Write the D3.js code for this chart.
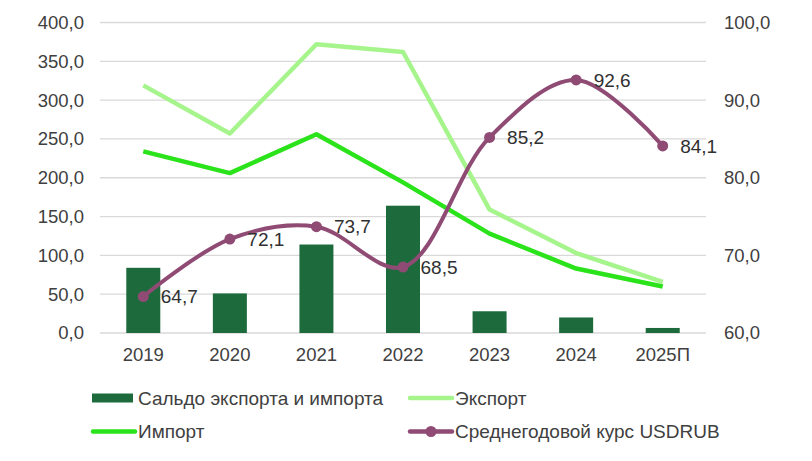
<!DOCTYPE html>
<html>
<head>
<meta charset="utf-8">
<script src="https://cdn.jsdelivr.net/npm/d3@7"></script>
<style>
  body { margin: 0; background: #fff; }
  svg text { font-family: "Liberation Sans", Arial, sans-serif; fill: #404040; }
</style>
</head>
<body>
<svg id="chart"></svg>
<script>
var years = ['2019', '2020', '2021', '2022', '2023', '2024', '2025П'];
var saldo = [84, 51, 114, 164, 28, 20, 6.5];
var exportVals = [319, 257, 372, 362, 159, 103, 66];
var importVals = [234, 206, 256, 194, 128, 83, 60];
var usdrub = [64.7, 72.1, 73.7, 68.5, 85.2, 92.6, 84.1];
var leftTicks = [0, 50, 100, 150, 200, 250, 300, 350, 400];
var rightTicks = [60, 70, 80, 90, 100];

var colBar = '#1d6b3c', colExp = '#a6f58c', colImp = '#2be31a', colUsd = '#8f4b74';

var width = 812, height = 461;
var margin = {top: 22.5, right: 106, bottom: 128, left: 100};
var svg = d3.select('#chart').attr('width', width).attr('height', height);
var g = svg.append('g').attr('transform', 'translate(' + margin.left + ',' + margin.top + ')');
var w = width - margin.left - margin.right, h = height - margin.top - margin.bottom;

var x = d3.scaleBand().domain(years).range([0, w]);
var y = d3.scaleLinear().domain([0, 400]).range([h, 0]);
var y2 = d3.scaleLinear().domain([60, 100]).range([h, 0]);
var cx = function(d, i) { return x(years[i]) + x.bandwidth() / 2; };
var fmt = function(v) { return d3.format('.1f')(v).replace('.', ','); };

// grid
g.append('g').selectAll('line').data(leftTicks).enter().append('line')
  .attr('x1', 0).attr('x2', w)
  .attr('y1', function(d) { return y(d); }).attr('y2', function(d) { return y(d); })
  .style('stroke', '#d9d9d9').style('stroke-width', 1.3);

// axes
var ax = g.append('g').attr('transform', 'translate(0,' + h + ')')
  .call(d3.axisBottom(x).tickSize(0).tickPadding(15));
ax.select('.domain').remove();

var ay = g.append('g').call(d3.axisLeft(y).tickValues(leftTicks).tickSize(0).tickPadding(16).tickFormat(fmt));
ay.select('.domain').remove();

var ay2 = g.append('g').attr('transform', 'translate(' + w + ',0)')
  .call(d3.axisRight(y2).tickValues(rightTicks).tickSize(0).tickPadding(18).tickFormat(fmt));
ay2.select('.domain').remove();
svg.selectAll('.tick text').style('fill', '#404040').style('font-size', '18.5px')
  .style('font-family', '"Liberation Sans", Arial, sans-serif');

// bars
var bw = 34;
g.selectAll('.bar').data(saldo).enter().append('rect')
  .attr('class', 'bar')
  .attr('x', function(d, i) { return cx(d, i) - bw / 2; })
  .attr('y', function(d) { return y(d); })
  .attr('width', bw)
  .attr('height', function(d) { return h - y(d); })
  .style('fill', colBar);

var line = d3.line().x(cx).y(function(d) { return y(d); });
g.append('path').attr('d', line(exportVals))
  .style('fill', 'none').style('stroke', colExp).style('stroke-width', 4.5).style('stroke-linejoin', 'round');
g.append('path').attr('d', line(importVals))
  .style('fill', 'none').style('stroke', colImp).style('stroke-width', 4.5).style('stroke-linejoin', 'round');

var line2 = d3.line().curve(d3.curveCatmullRom).x(cx).y(function(d) { return y2(d); });
g.append('path').attr('d', line2(usdrub))
  .style('fill', 'none').style('stroke', colUsd).style('stroke-width', 4);
g.selectAll('.pt').data(usdrub).enter().append('circle')
  .attr('cx', cx).attr('cy', function(d) { return y2(d); }).attr('r', 5.5)
  .style('fill', colUsd);
g.selectAll('.lbl').data(usdrub).enter().append('text')
  .attr('x', function(d, i) { return cx(d, i) + 17.5; })
  .attr('y', function(d) { return y2(d); })
  .attr('dy', '0.35em')
  .style('font-size', '19px')
  .style('fill', '#303030')
  .text(fmt);

// legend
var legend = svg.append('g').attr('class', 'legend');
var items = [
  {name: 'Сальдо экспорта и импорта', type: 'bar', color: colBar, x: 92, y: 398},
  {name: 'Экспорт', type: 'line', color: colExp, x: 409, y: 398},
  {name: 'Импорт', type: 'line', color: colImp, x: 92, y: 431.5},
  {name: 'Среднегодовой курс USDRUB', type: 'marker', color: colUsd, x: 409, y: 431.5}
];
items.forEach(function(it) {
  var lg = legend.append('g').attr('transform', 'translate(' + it.x + ',' + it.y + ')');
  if (it.type == 'bar') {
    lg.append('rect').attr('x', 0).attr('y', -4.5).attr('width', 41).attr('height', 9).style('fill', it.color);
  } else {
    lg.append('line').attr('x1', 1).attr('x2', 43).attr('y1', 0).attr('y2', 0)
      .style('stroke', it.color).style('stroke-width', 4.5).style('stroke-linecap', 'round');
    if (it.type == 'marker') {
      lg.append('circle').attr('cx', 22).attr('cy', 0).attr('r', 5.5).style('fill', it.color);
    }
  }
  lg.append('text')
    .attr('x', 46)
    .attr('dy', '0.35em')
    .style('font-size', '19px').style('fill', '#404040').text(it.name);
});
</script>
</body>
</html>
